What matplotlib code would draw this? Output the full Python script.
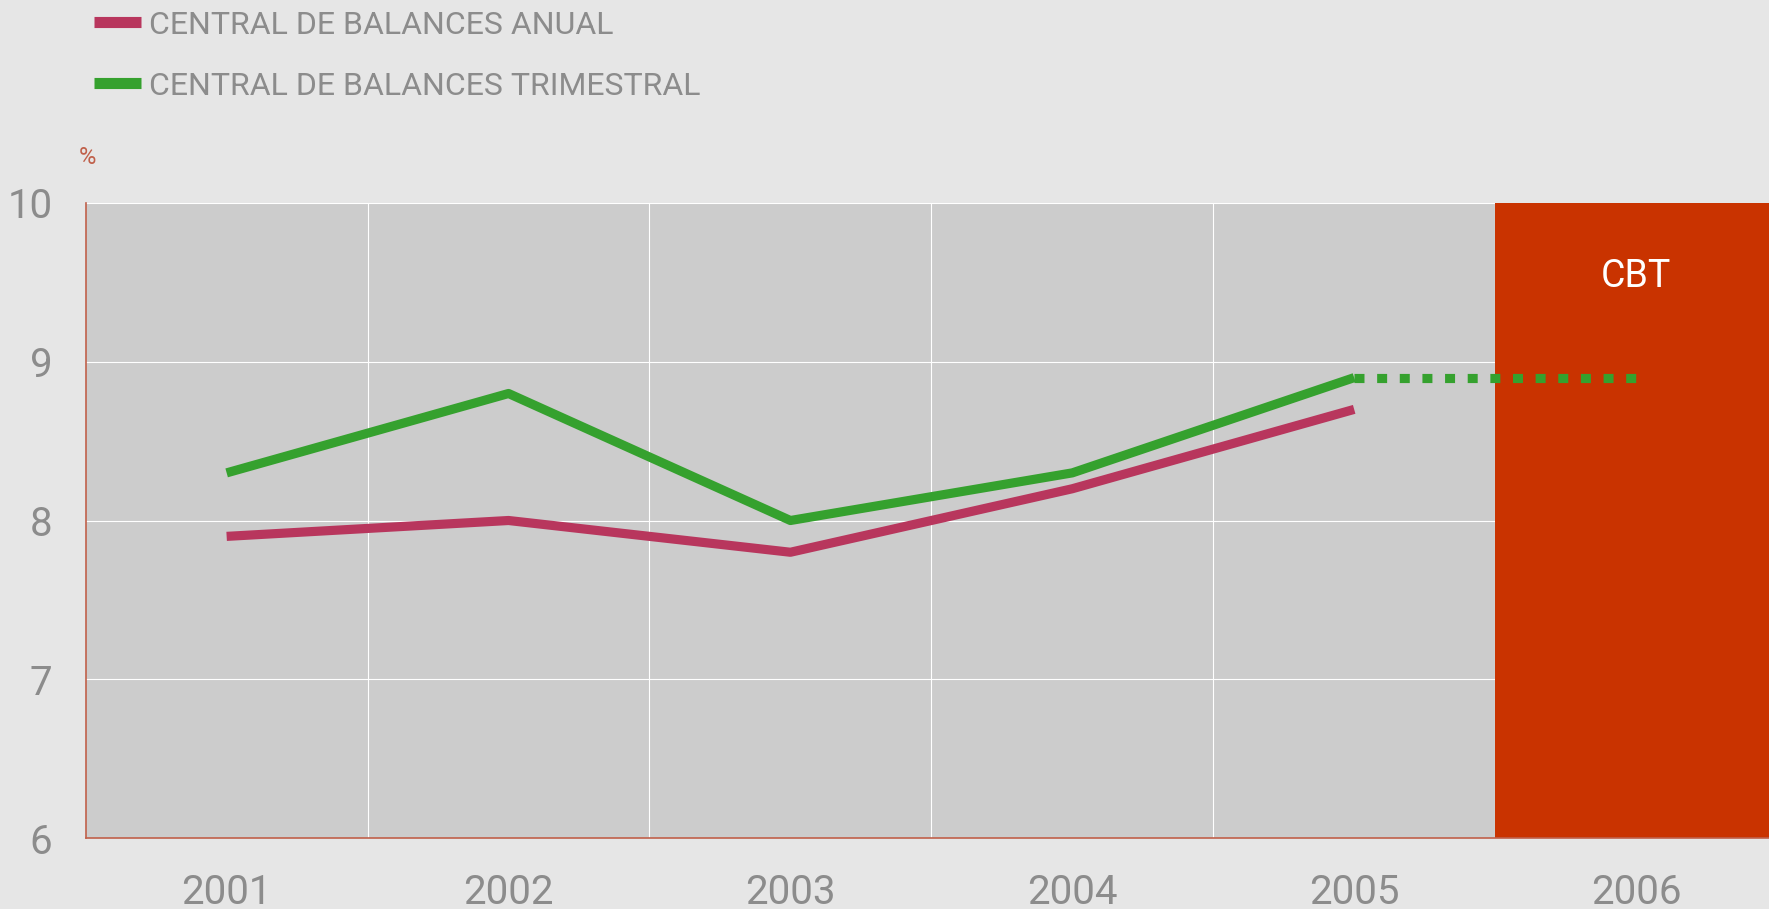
import numpy as np
import matplotlib.pyplot as plt
from matplotlib.lines import Line2D

plt.rcParams.update({
    "font.family": ["Roboto", "DejaVu Sans"],
    "font.weight": "normal",
})

#---------------------------------------------------------------------------
#                               DATA
#---------------------------------------------------------------------------

years = ["2001", "2002", "2003", "2004", "2005", "2006"]
anual = [7.9, 8.0, 7.8, 8.2, 8.7]
trimestral = [8.3, 8.8, 8.0, 8.3, 8.9]
trimestral_proj_x = [4, 5]
trimestral_proj = [8.9, 8.9]
yticks = [6, 7, 8, 9, 10]

col_anual = "#B8365D"
col_trim = "#35A12E"
col_cbt = "#C93300"
col_axis = "#C0604A"
col_text = "#8C8C8C"

#---------------------------------------------------------------------------
#                               PLOT
#---------------------------------------------------------------------------

fig = plt.figure(figsize=(17.69, 9.09), dpi=100, facecolor="#E6E6E6")
ax = fig.add_axes([85.7/1769, 71/909, (1777-85.7)/1769, (838-203)/909])
ax.set_facecolor("#CCCCCC")

x = np.arange(len(years))

# CBT band
ax.axvspan(4.5, 5.5, color=col_cbt, zorder=1, lw=0)
ax.text(5, 9.54, "CBT", color="white", fontsize=27, ha="center", va="center", zorder=5)

# grid
for yv in yticks[1:]:
    ax.axhline(yv, color="white", lw=0.8, zorder=0.5)
for xv in np.arange(0.5, 4.6, 1):
    ax.axvline(xv, color="white", lw=0.8, zorder=0.5)

l1, = ax.plot(x[:5], anual, color=col_anual, lw=6.6, solid_capstyle="butt", zorder=3)
l2, = ax.plot(x[:5], trimestral, color=col_trim, lw=6.6, solid_capstyle="butt", zorder=3)
ax.plot(trimestral_proj_x, trimestral_proj, color=col_trim, lw=6.6,
        linestyle=(0, (1.09, 1.38)), dash_capstyle="butt", zorder=3)

ax.set_xlim(-0.5, 5.5)
ax.set_ylim(6, 10)
ax.set_xticks(x)
ax.set_xticklabels(years)
ax.set_yticks(yticks)
ax.tick_params(axis="x", length=0, pad=25, labelsize=29, labelcolor=col_text)
ax.tick_params(axis="y", length=0, pad=24, labelsize=29, labelcolor=col_text)

for s in ["top", "right"]:
    ax.spines[s].set_visible(False)
for s in ["left", "bottom"]:
    ax.spines[s].set_color(col_axis)
    ax.spines[s].set_linewidth(1.2)

fig.text(87/1769, 1 - 158/909, "%", color=col_axis, fontsize=17, ha="center", va="center")

# legend
fig.legend([Line2D([], [], color=col_anual, lw=8, solid_capstyle="butt"),
            Line2D([], [], color=col_trim, lw=8, solid_capstyle="butt")],
           ["CENTRAL DE BALANCES ANUAL", "CENTRAL DE BALANCES TRIMESTRAL"],
           loc="upper left", bbox_to_anchor=(0.037, 1.02), frameon=False,
           fontsize=23, labelcolor=col_text, handlelength=1.45, handletextpad=0.25,
           labelspacing=1.0)

plt.savefig("out.png", dpi=100, facecolor=fig.get_facecolor())
